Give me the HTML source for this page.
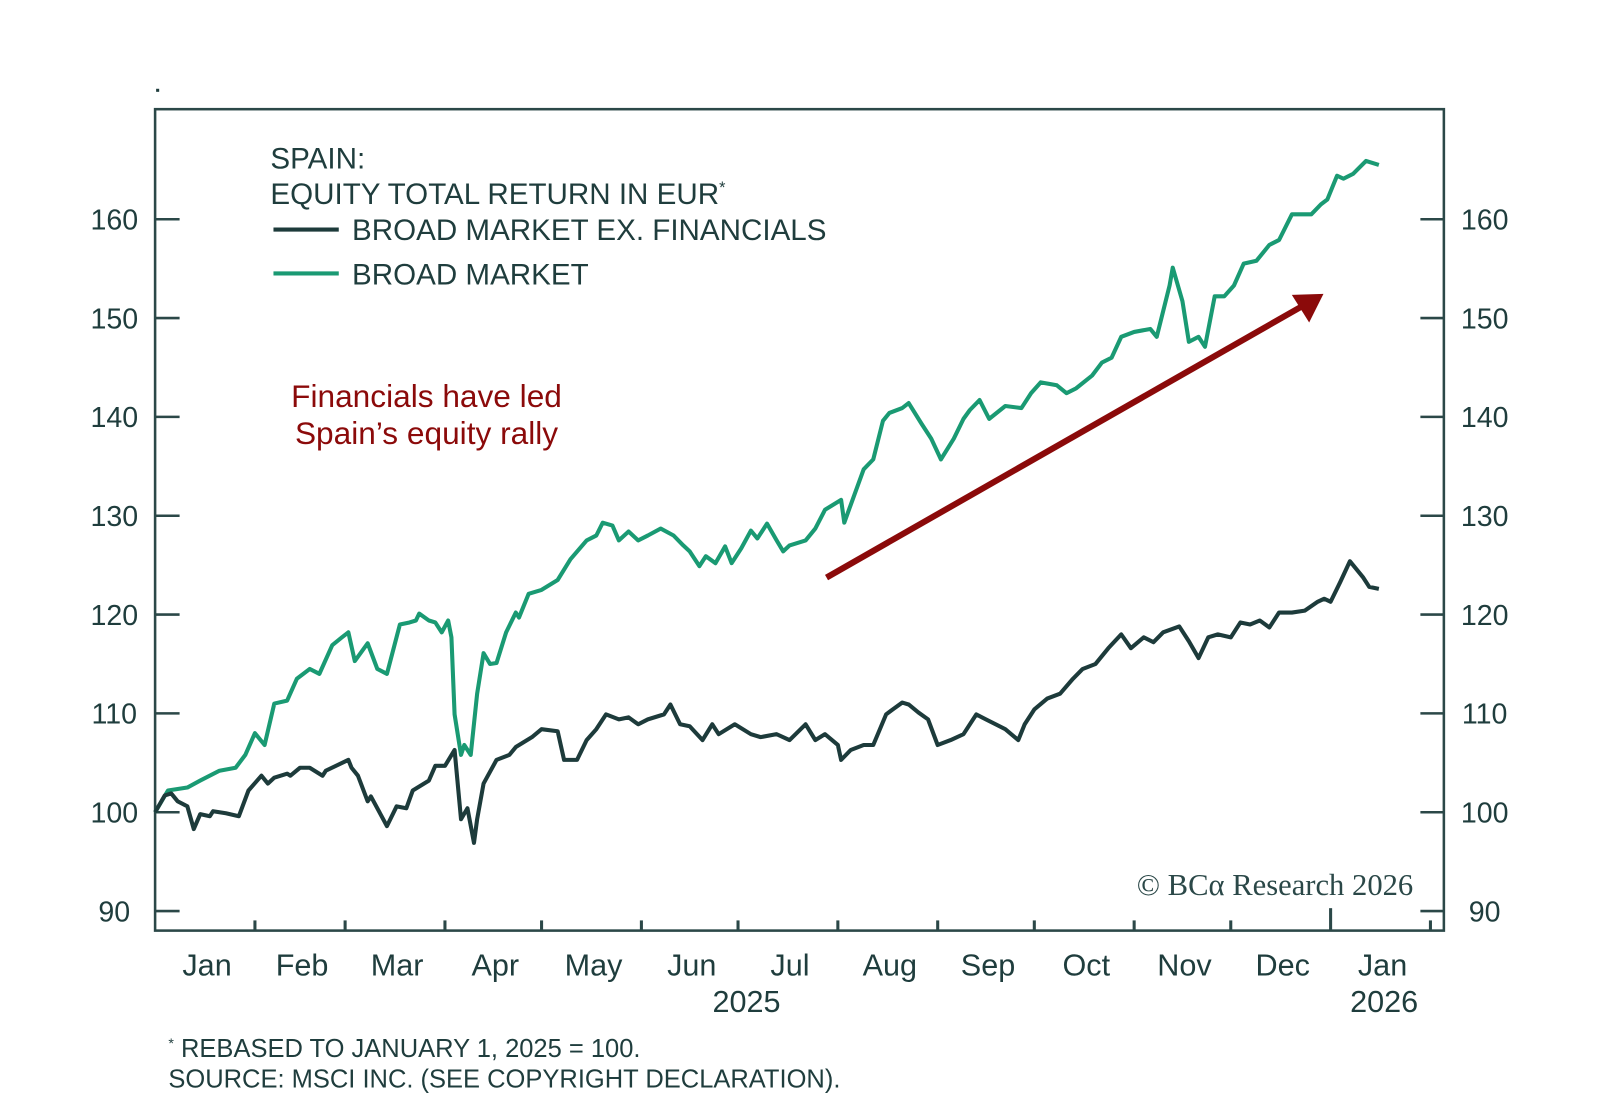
<!DOCTYPE html>
<html><head><meta charset="utf-8">
<style>
html,body{margin:0;padding:0;background:#fff;}
svg{display:block;font-family:"Liberation Sans",sans-serif;}
</style></head>
<body>
<svg id="chart" width="1600" height="1107" viewBox="0 0 1600 1107">
 <g transform="scale(1.0204)">
  <rect x="153" y="87" width="3" height="3" fill="#1f3d3d"/>
  <rect x="152" y="107" width="1263" height="805" fill="none" stroke="#2b4848" stroke-width="2.5"/>
  <g id="yaxes"></g>
  <g id="xaxis"></g>
  <g id="series"></g>

  <g fill="#1f3d3d" font-size="29">
    <text x="265" y="165">SPAIN:</text>
    <text x="265" y="200">EQUITY TOTAL RETURN IN EUR<tspan font-size="16" dy="-11">*</tspan></text>
    <line x1="268" y1="225" x2="332" y2="225" stroke="#1d3b3b" stroke-width="4"/>
    <text x="345" y="235">BROAD MARKET EX. FINANCIALS</text>
    <line x1="268" y1="268" x2="332" y2="268" stroke="#1a9a73" stroke-width="4"/>
    <text x="345" y="279">BROAD MARKET</text>
  </g>

  <g fill="#8b0a0a" font-size="31" text-anchor="middle">
    <text x="418" y="399">Financials have led</text>
    <text x="418" y="435">Spain’s equity rally</text>
  </g>
  <g>
    <line x1="810" y1="566" x2="1278" y2="299" stroke="#8b0a0a" stroke-width="6"/>
    <polygon points="1297,288 1266,289 1283,316" fill="#8b0a0a"/>
  </g>

  <text x="1385" y="877" text-anchor="end" font-family="Liberation Serif,serif" font-size="30" fill="#2b4848">© BCα Research 2026</text>

  <g fill="#1f3d3d" font-size="25">
    <text x="165" y="1036"><tspan font-size="14" dy="-9">*</tspan><tspan dy="9"> REBASED TO JANUARY 1, 2025 = 100.</tspan></text>
    <text x="165" y="1066">SOURCE: MSCI INC. (SEE COPYRIGHT DECLARATION).</text>
  </g>
 </g>
</svg>
<script>
const yTicks = [90,100,110,120,130,140,150,160];
const monthLabels = ["Jan","Feb","Mar","Apr","May","Jun","Jul","Aug","Sep","Oct","Nov","Dec","Jan"];
const monthStarts = [0,31,59,90,120,151,181,212,243,273,304,334,365,396];
const yearLabels = ["2025","2026"];
const broadDays = [0,4,10,14,20,25,28,31,34,37,41,44,48,51,55,58,60,62,66,69,72,76,79,81,82,85,87,89,91,92,93,95,96,98,100,102,104,106,109,112,113,116,120,125,129,134,137,139,142,144,147,150,153,157,161,164,166,169,171,174,177,179,182,185,187,190,193,195,197,202,205,208,213,214,216,220,223,226,228,232,234,238,241,244,248,251,253,256,259,264,269,272,275,280,283,286,291,294,297,300,304,309,311,315,316,319,321,324,326,329,332,335,338,342,346,349,353,359,362,364,367,369,372,376,380];
const broadVals = [100,102.2,102.5,103.2,104.2,104.5,105.8,108,106.8,111,111.3,113.5,114.5,114,116.9,117.7,118.2,115.3,117.1,114.5,114,119,119.2,119.4,120.1,119.4,119.2,118.2,119.4,117.7,109.9,105.8,106.8,105.8,112,116.1,115,115.1,118.2,120.2,119.7,122.1,122.5,123.5,125.6,127.5,128,129.3,129,127.5,128.4,127.5,128,128.7,128,127,126.4,124.9,125.9,125.2,126.9,125.2,126.7,128.5,127.7,129.2,127.5,126.4,127,127.5,128.7,130.6,131.6,129.3,131.1,134.7,135.7,139.6,140.4,140.9,141.4,139.3,137.8,135.7,137.8,139.8,140.7,141.7,139.8,141.1,140.9,142.4,143.5,143.2,142.4,142.9,144.2,145.5,146,148.1,148.6,148.9,148.1,153.3,155.1,151.7,147.6,148.1,147.1,152.2,152.2,153.3,155.5,155.8,157.4,157.9,160.5,160.5,161.5,162,164.4,164.1,164.6,165.9,165.5];
const exFinDays = [0,3,5,7,10,12,14,17,18,22,26,29,33,35,37,41,42,45,48,52,53,60,61,63,66,67,72,75,78,80,85,87,90,93,95,97,99,100,102,106,110,112,117,120,125,127,131,134,137,140,144,147,150,153,158,160,163,166,170,173,175,180,185,188,193,197,202,205,208,212,213,216,220,223,227,229,232,234,237,240,243,247,251,255,258,261,264,268,270,273,277,281,285,288,292,296,300,303,307,310,313,318,321,324,327,330,334,337,340,343,346,349,353,357,361,363,365,368,371,375,377,380];
const exFinVals = [100,101.7,101.9,101.1,100.6,98.3,99.8,99.6,100.1,99.9,99.6,102.2,103.7,102.9,103.5,103.9,103.7,104.5,104.5,103.7,104.2,105.3,104.5,103.7,101.1,101.6,98.6,100.6,100.4,102.2,103.2,104.7,104.7,106.3,99.3,100.4,96.9,99.3,102.9,105.3,105.8,106.6,107.6,108.4,108.2,105.3,105.3,107.3,108.4,109.9,109.4,109.6,108.9,109.4,109.9,110.9,108.9,108.7,107.3,108.9,107.9,108.9,107.9,107.6,107.9,107.3,108.9,107.3,107.9,106.8,105.3,106.3,106.8,106.8,109.9,110.4,111.1,110.9,110.1,109.4,106.8,107.3,107.9,109.9,109.4,108.9,108.4,107.3,108.9,110.4,111.5,112,113.5,114.5,115,116.6,118,116.6,117.7,117.2,118.2,118.8,117.3,115.6,117.7,118,117.7,119.2,119,119.4,118.7,120.2,120.2,120.4,121.3,121.6,121.3,123.3,125.4,123.8,122.8,122.6];

const NS = "http://www.w3.org/2000/svg";
const X0 = 152, DAYPX = 1152/365;
const xScale = d => X0 + d*DAYPX;
const yScale = v => 796 - (v-100)*(678/70);
function mk(tag, attrs, parent){const e=document.createElementNS(NS,tag);for(const k in attrs)e.setAttribute(k,attrs[k]);parent.appendChild(e);return e;}

const ya = document.getElementById('yaxes');
yTicks.forEach(v=>{
  const y=yScale(v);
  const l1=mk('line',{x1:152,x2:176,y1:y,y2:y,stroke:'#2b4848','stroke-width':2.5},ya);
  
  
  const l2=mk('line',{x1:1392,x2:1415,y1:y,y2:y,stroke:'#2b4848','stroke-width':2.5},ya);
  
  
  const t1=mk('text',{x:112,y:y+10,'text-anchor':'middle','font-size':28,fill:'#1f3d3d'},ya);
  t1.textContent=v;
  
  
  const t2=mk('text',{x:1455,y:y+10,'text-anchor':'middle','font-size':28,fill:'#1f3d3d'},ya);
  t2.textContent=v;
  
  
});

const xa = document.getElementById('xaxis');
monthStarts.forEach((d,i)=>{
  if(d>0){
    const x=xScale(d);
    const tk=mk('line',{x1:x,x2:x,y1:912,y2:d===365?890:902,stroke:'#2b4848','stroke-width':3},xa);
    
    
  }
  if(i<monthLabels.length){
    const mid=(d+monthStarts[i+1])/2;
    const t=mk('text',{x:xScale(mid)+2,y:956,'text-anchor':'middle','font-size':30,fill:'#1f3d3d'},xa);
    t.textContent=monthLabels[i];
    
    
  }
});
[[183,yearLabels[0]],[381,yearLabels[1]]].forEach(([d,s])=>{
  const t=mk('text',{x:xScale(d)+2,y:992,'text-anchor':'middle','font-size':30,fill:'#1f3d3d'},xa);
  t.textContent=s;
  
  
});

const sg = document.getElementById('series');
function path(days, vals){return days.map((d,i)=>(i?'L':'M')+xScale(d).toFixed(1)+','+yScale(vals[i]).toFixed(1)).join('');}
const pg=mk('path',{d:path(broadDays,broadVals),fill:'none',stroke:'#1a9a73','stroke-width':4,'stroke-linejoin':'round'},sg);


const pd=mk('path',{d:path(exFinDays,exFinVals),fill:'none',stroke:'#1d3b3b','stroke-width':4,'stroke-linejoin':'round'},sg);


</script>
</body></html>
